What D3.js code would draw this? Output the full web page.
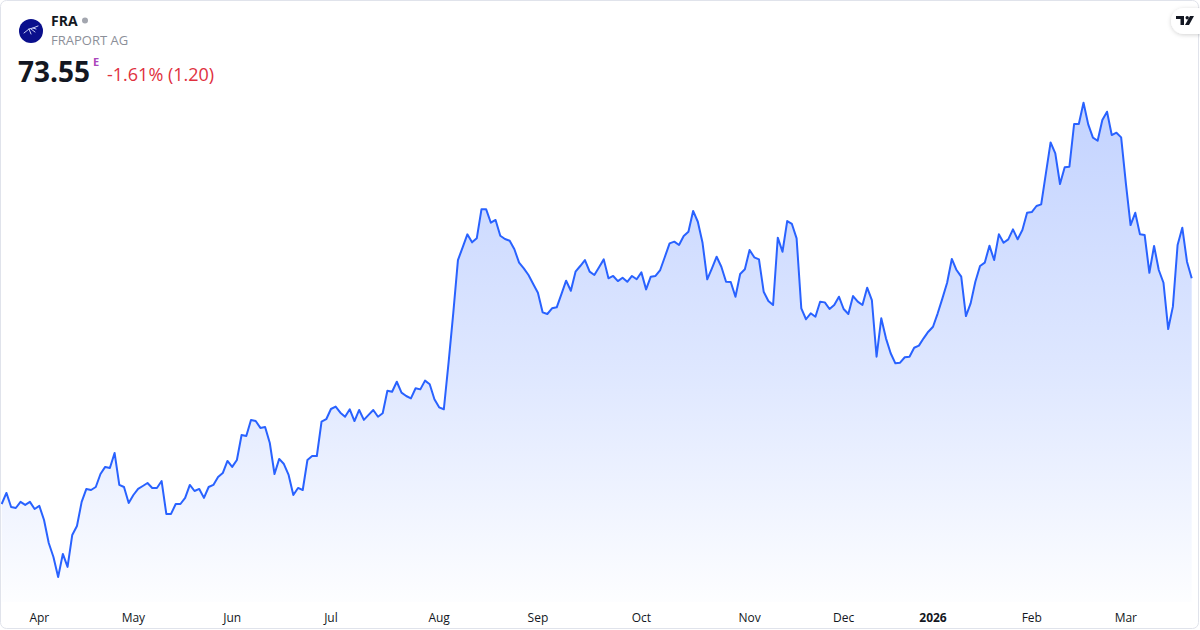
<!DOCTYPE html>
<html><head><meta charset="utf-8">
<script src="https://cdn.jsdelivr.net/npm/d3@7"></script>
<style>
html,body{margin:0;padding:0;background:#fff;}
svg{display:block;font-family:"Open Sans","Noto Sans",sans-serif;}
</style></head><body>
<svg id="chart" width="1200" height="630"></svg>
<script>
// ---- data ----
const symbol = "FRA";
const companyName = "FRAPORT AG";
const lastPrice = "73.55";
const exchangeFlag = "E";
const changeText = "-1.61% (1.20)";
const startDate = "2025-03-20";
const holidays = ["2025-04-18","2025-04-21","2025-05-01","2025-12-24","2025-12-25","2025-12-26","2025-12-31","2026-01-01"];
const monthLabels = ["Apr","May","Jun","Jul","Aug","Sep","Oct","Nov","Dec","2026","Feb","Mar"];
const boldLabels = ["2026"];
const prices = [
57.23,58.03,57.01,56.94,57.38,57.16,57.38,56.87,57.09,56.07,
54.41,53.40,51.95,53.62,52.68,54.99,55.64,57.38,58.32,58.24,
58.46,59.40,59.91,59.83,60.92,58.61,58.46,57.30,57.88,58.32,
58.53,58.75,58.39,58.39,58.89,56.51,56.51,57.23,57.23,57.67,
58.61,58.17,58.32,57.67,58.46,58.61,59.18,59.47,60.34,59.91,
60.41,62.22,62.15,63.31,63.23,62.73,62.80,61.64,59.40,60.49,
60.12,59.33,57.88,58.39,58.24,60.41,60.70,60.70,
63.18,63.36,64.10,64.27,63.83,63.54,64.08,63.23,64.03,63.31,
63.67,64.03,63.54,63.79,65.42,65.35,66.07,65.28,65.04,64.87,
65.60,65.52,66.15,65.89,64.80,64.22,64.08,67.43,71.02,74.87,
75.79,76.73,76.15,76.44,78.54,78.54,77.57,77.77,76.63,76.39,
76.27,75.65,74.68,74.27,73.79,73.14,72.51,71.09,70.97,71.38,
71.45,72.41,73.38,72.65,74.03,74.44,74.87,74.03,73.79,74.35,
74.92,73.55,73.72,73.35,73.59,73.30,73.72,73.48,73.98,72.75,
73.67,73.72,74.15,75.11,76.08,76.20,75.96,76.61,76.92,78.42,
77.64,76.12,73.48,74.27,75.11,74.39,73.30,73.28,72.22,73.86,
74.20,75.60,75.07,74.92,72.58,71.91,71.62,76.49,75.47,77.69,
77.48,76.44,71.38,70.59,71.02,70.77,71.86,71.81,71.33,71.62,
72.22,71.33,70.97,72.27,71.86,71.62,72.87,71.98,67.88,
70.66,69.21,68.13,67.40,67.45,67.84,67.88,68.53,68.68,69.21,
69.69,70.05,71.02,72.10,73.23,74.95,74.15,73.67,70.82,71.74,
73.30,74.44,74.68,75.91,74.87,76.73,76.12,76.37,77.09,76.37,
77.04,78.29,78.34,78.78,78.90,81.14,83.38,82.59,80.37,81.58,
81.62,84.71,84.71,86.25,84.68,83.72,83.50,85.00,85.60,83.91,
84.08,83.74,80.44,77.40,78.29,76.73,76.68,73.95,75.89,74.15,
73.23,69.88,71.50,75.96,77.21,74.75,73.55
];

// ---- trading dates ----
const parse = d3.timeParse("%Y-%m-%d");
const fmt = d3.timeFormat("%Y-%m-%d");
const holidaySet = new Set(holidays);
const dates = [];
let cur = parse(startDate);
while (dates.length < prices.length) {
  const dow = cur.getDay();
  if (dow !== 0 && dow !== 6 && !holidaySet.has(fmt(cur))) dates.push(new Date(cur));
  cur = d3.timeDay.offset(cur, 1);
}
const data = prices.map((p, i) => ({i, date: dates[i], value: p}));
const tickIdx = [];
for (let i = 1; i < dates.length; i++) {
  if (dates[i].getMonth() !== dates[i-1].getMonth()) tickIdx.push(i);
}

// ---- layout ----
const W = 1200, H = 630;
const svg = d3.select("#chart");
const x = d3.scaleLinear().domain([0, prices.length - 1]).range([1.7, 1191.7]);
const y = d3.scaleLinear().domain(d3.extent(prices)).range([577, 102.7]);
const baseY = 602;

const defs = svg.append("defs");
const grad = defs.append("linearGradient").attr("id", "fillGrad")
  .attr("gradientUnits", "userSpaceOnUse").attr("x1", 0).attr("x2", 0)
  .attr("y1", 100).attr("y2", baseY);
grad.append("stop").attr("offset", "0%").attr("stop-color", "#2962ff").attr("stop-opacity", 0.28);
grad.append("stop").attr("offset", "55%").attr("stop-color", "#2962ff").attr("stop-opacity", 0.15);
grad.append("stop").attr("offset", "100%").attr("stop-color", "#2962ff").attr("stop-opacity", 0.01);

const clip = defs.append("clipPath").attr("id", "plotClip");
clip.append("rect").attr("x", 1).attr("y", 1).attr("width", 1197).attr("height", baseY);

const filt = defs.append("filter").attr("id", "shadow").attr("x", "-50%").attr("y", "-50%").attr("width", "200%").attr("height", "200%");
filt.append("feDropShadow").attr("dx", 0).attr("dy", 1).attr("stdDeviation", 2).attr("flood-color", "#000").attr("flood-opacity", 0.18);

const plot = svg.append("g").attr("clip-path", "url(#plotClip)");
plot.append("path").datum(data)
  .attr("fill", "url(#fillGrad)")
  .attr("d", d3.area().x(d => x(d.i)).y0(baseY).y1(d => y(d.value)));
plot.append("path").datum(data)
  .attr("fill", "none").attr("stroke", "#2962ff").attr("stroke-width", 2)
  .attr("stroke-linejoin", "round")
  .attr("d", d3.line().x(d => x(d.i)).y(d => y(d.value)));

// x axis labels
const axis = svg.append("g");
axis.selectAll("text").data(tickIdx).join("text")
  .attr("x", d => x(d)).attr("y", 622)
  .attr("text-anchor", "middle")
  .attr("font-size", 12)
  .attr("fill", "#131722")
  .attr("font-weight", (d, k) => boldLabels.includes(monthLabels[k]) ? "bold" : "normal")
  .text((d, k) => monthLabels[k]);

// border
svg.append("rect").attr("x", 0.5).attr("y", 0.5).attr("width", 1198).attr("height", 628)
  .attr("rx", 6).attr("fill", "none").attr("stroke", "#e0e3eb");

// header
const hdr = svg.append("g");
hdr.append("circle").attr("cx", 31).attr("cy", 31).attr("r", 12).attr("fill", "#0a0f8c");
const icon = hdr.append("g").attr("stroke", "#dfe3ff").attr("stroke-width", 0.9).attr("fill", "none").attr("stroke-linecap", "round");
icon.append("path").attr("d", "M24 33 L29 29 L33 28 L38 26");
icon.append("path").attr("d", "M29 29 L31 34 M31 29 L35 32 M33 28 L36 29");
hdr.append("text").attr("x", 51).attr("y", 26).attr("font-size", 14).attr("font-weight", "bold").attr("fill", "#131722").text(symbol);
hdr.append("circle").attr("cx", 85).attr("cy", 20.5).attr("r", 3).attr("fill", "#a3a6af");
hdr.append("text").attr("x", 51).attr("y", 45).attr("font-size", 13).attr("fill", "#8c8f99").text(companyName);
hdr.append("text").attr("x", 18).attr("y", 82).attr("font-size", 28).attr("font-weight", "bold").attr("fill", "#131722").text(lastPrice);
hdr.append("text").attr("x", 93).attr("y", 66).attr("font-size", 11).attr("font-weight", "bold").attr("fill", "#ab47bc").text(exchangeFlag);
hdr.append("text").attr("x", 107).attr("y", 81).attr("font-size", 18).attr("fill", "#e0303e").text(changeText);

// TradingView badge
const tv = svg.append("g");
tv.append("rect").attr("x", 1171).attr("y", 8).attr("width", 40).attr("height", 26).attr("rx", 13)
  .attr("fill", "#fff").attr("filter", "url(#shadow)");
tv.append("path").attr("fill", "#131722").attr("d", "M1176 16 H1184 V25 H1180.5 V19 H1176 Z");
tv.append("circle").attr("cx", 1187.2).attr("cy", 17.7).attr("r", 1.7).attr("fill", "#131722");
tv.append("path").attr("fill", "#131722").attr("d", "M1190 16 H1194 L1189 25 H1185 Z");
</script>
</body></html>
